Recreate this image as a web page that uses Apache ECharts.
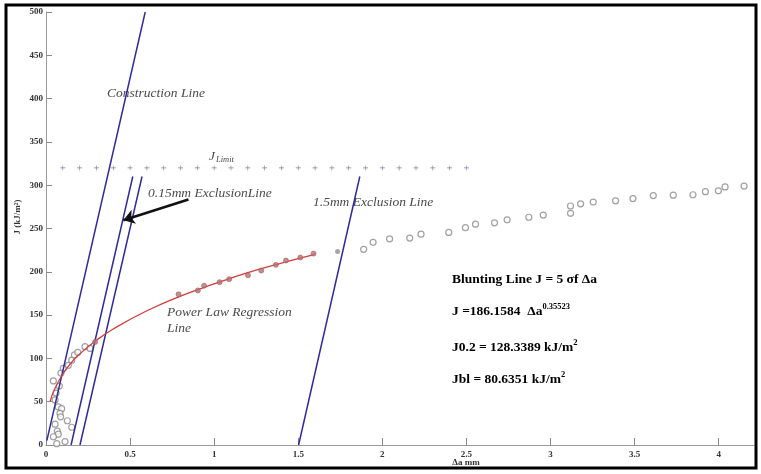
<!DOCTYPE html>
<html lang="en">
<head>
    <meta charset="UTF-8">
    <title>J-R curve</title>
    <script src="https://cdn.jsdelivr.net/npm/echarts@6/dist/echarts.min.js"></script>
    <style>
        html, body { margin: 0; padding: 0; background: #fff; }
    </style>
</head>
<body>
<div id="chart" style="width: 761px; height: 474px;"></div>
<script>
    // axis ticks
    var xTicks = [0, 0.5, 1, 1.5, 2, 2.5, 3, 3.5, 4];

    // straight lines: [x, J]
    var constructionLine = [[0.005, 5], [0.59, 500]];
    var exclusion015 = [[0.149, 0], [0.516, 310]];
    var exclusion02 = [[0.202, 0], [0.571, 310]];
    var exclusion15 = [[1.502, 0], [1.866, 310]];

    // J limit row of "+" markers
    var jLimitX = [0.1, 0.2, 0.3, 0.4, 0.5, 0.6, 0.7, 0.8, 0.9, 1.0, 1.1, 1.2, 1.3,
        1.4, 1.5, 1.6, 1.7, 1.8, 1.9, 2.0, 2.1, 2.2, 2.3, 2.4, 2.5];
    var jLimit = 320;

    // power law regression curve
    var curveX = [0.024, 0.05, 0.1, 0.15, 0.2, 0.3, 0.4, 0.6, 0.8, 1.0, 1.2, 1.4, 1.6];
    var curveJ = [50, 64, 82, 95, 105, 121, 134, 155, 172, 186, 199, 210, 220];

    // points used in the regression (filled)
    var fitX = [0.292, 0.788, 0.903, 0.940, 1.032, 1.089, 1.201, 1.280, 1.367, 1.427, 1.512, 1.591];
    var fitJ = [119, 174, 178.5, 184, 188, 191.5, 196, 201.5, 208, 213, 216.5, 221];
    var extraX = [1.734];
    var extraJ = [223.5];

    // open circles, near origin
    var nearX = [0.044, 0.079, 0.089, 0.103, 0.133, 0.153, 0.169, 0.189, 0.232, 0.262,
        0.054, 0.060, 0.073, 0.093, 0.083, 0.087, 0.054, 0.067, 0.073, 0.044, 0.064, 0.113, 0.127, 0.153];
    var nearJ = [74, 68, 83, 88.5, 92, 98, 104, 107, 113.5, 111.5,
        52, 60, 44, 42, 36.5, 32.5, 24, 16, 12.5, 9.5, 1.5, 4, 28, 20.5];

    // open circles, beyond the 1.5 mm line
    var farX = [1.889, 1.945, 2.043, 2.163, 2.230, 2.395, 2.494, 2.554, 2.667, 2.742, 2.871, 2.957,
        3.119, 3.119, 3.179, 3.254, 3.387, 3.490, 3.611, 3.730, 3.847, 3.921, 3.998, 4.038, 4.151];
    var farJ = [226, 234, 238, 239, 243.5, 245.5, 251, 255, 256.5, 260, 263, 265.5,
        267.5, 276, 278.5, 280.5, 282, 284.5, 288, 288.5, 289, 292.5, 293.5, 298, 299];

    // arrow pointing at the 0.15 mm exclusion line
    var arrowFrom = [0.847, 283.5];
    var arrowTo = [0.46, 259.6];

    function pairs(xs, ys) {
        return xs.map(function (x, i) { return [x, ys[i]]; });
    }

    var chart = echarts.init(document.getElementById('chart'));
    var blue = '#2c2c9e';
    var serif = 'Liberation Serif';
    var plus = 'path://M4.4,0 L5.6,0 L5.6,4.4 L10,4.4 L10,5.6 L5.6,5.6 L5.6,10 L4.4,10 L4.4,5.6 L0,5.6 L0,4.4 L4.4,4.4 Z';

    var italic = function (text, x, y) {
        return {
            type: 'text', x: x, y: y, silent: true,
            style: {
                text: text, fontFamily: serif, fontStyle: 'italic', fontSize: 13.5,
                fill: '#4a4a4a', verticalAlign: 'middle'
            }
        };
    };
    var boldRich = {
        a: {fontFamily: serif, fontWeight: 'bold', fontSize: 13.5, color: '#2a2a2a'},
        b: {fontFamily: serif, fontWeight: 'bold', fontSize: 8.5, color: '#2a2a2a', padding: [0, 0, 10, 0]}
    };
    var bold = function (text, x, y) {
        return {
            type: 'text', x: x, y: y, silent: true,
            style: {text: text, rich: boldRich, verticalAlign: 'middle'}
        };
    };

    chart.setOption({
        animation: false,
        grid: {left: 46, right: 7, top: 12, bottom: 29},
        xAxis: {
            type: 'value', min: 0, max: 4.21,
            splitLine: {show: false},
            axisLine: {lineStyle: {color: '#9a9a9a'}},
            axisTick: {inside: true, length: 7, customValues: xTicks, lineStyle: {color: '#8a8a8a'}},
            axisLabel: {
                customValues: xTicks, margin: 5, color: '#333',
                fontFamily: serif, fontWeight: 'bold', fontSize: 9
            }
        },
        yAxis: {
            type: 'value', min: 0, max: 500, interval: 50,
            splitLine: {show: false},
            axisLine: {show: true, lineStyle: {color: '#9a9a9a'}},
            axisTick: {show: true, inside: true, length: 6, lineStyle: {color: '#8a8a8a'}},
            axisLabel: {margin: 3, color: '#333', fontFamily: serif, fontWeight: 'bold', fontSize: 9}
        },
        graphic: [
            {
                type: 'rect', silent: true, z: 100,
                shape: {x: 6, y: 5, width: 750, height: 463},
                style: {fill: 'none', stroke: '#000', lineWidth: 3}
            },
            {
                type: 'text', x: 18, y: 217, rotation: Math.PI / 2, silent: true,
                style: {
                    text: 'J (kJ/m²)', fontFamily: serif, fontWeight: 'bold', fontSize: 9,
                    fill: '#333', align: 'center', verticalAlign: 'middle'
                }
            },
            {
                type: 'text', x: 466, y: 463, silent: true,
                style: {
                    text: 'Δa mm', fontFamily: serif, fontWeight: 'bold', fontSize: 9,
                    fill: '#333', align: 'center', verticalAlign: 'middle'
                }
            },
            italic('Construction Line', 107, 93),
            italic('0.15mm ExclusionLine', 148, 193),
            italic('1.5mm Exclusion Line', 313, 202),
            italic('Power Law Regression', 167, 312),
            italic('Line', 167, 328),
            italic('J', 209, 156),
            {
                type: 'text', x: 216, y: 160, silent: true,
                style: {
                    text: 'Limit', fontFamily: serif, fontStyle: 'italic', fontSize: 8.5,
                    fill: '#4a4a4a', verticalAlign: 'middle'
                }
            },
            bold('{a|Blunting Line J = 5 σf Δa}', 452, 280),
            bold('{a|J =186.1584  Δa}{b|0.35523}', 452, 312),
            bold('{a|J0.2 = 128.3389 kJ/m}{b|2}', 452, 348),
            bold('{a|Jbl = 80.6351 kJ/m}{b|2}', 452, 380)
        ],
        series: [
            {
                type: 'line', data: constructionLine, symbol: 'none',
                lineStyle: {color: blue, width: 1.5}
            },
            {
                type: 'line', data: exclusion015, symbol: 'none',
                lineStyle: {color: blue, width: 1.5}
            },
            {
                type: 'line', data: exclusion02, symbol: 'none',
                lineStyle: {color: blue, width: 1.5}
            },
            {
                type: 'line', data: exclusion15, symbol: 'none',
                lineStyle: {color: blue, width: 1.5}
            },
            {
                type: 'scatter', data: jLimitX.map(function (x) { return [x, jLimit]; }),
                symbol: plus, symbolSize: 5,
                itemStyle: {color: '#5a5c82'}
            },
            {
                type: 'line', data: pairs(curveX, curveJ), symbol: 'none', smooth: true,
                lineStyle: {color: '#d43c3c', width: 1.3}
            },
            {
                type: 'scatter', data: pairs(nearX, nearJ).concat(pairs(farX, farJ)),
                symbol: 'circle', symbolSize: 6,
                itemStyle: {color: '#fff', borderColor: '#8a8a8a', borderWidth: 1.2}
            },
            {
                type: 'scatter', data: pairs(fitX, fitJ), symbolSize: 5, z: 3,
                itemStyle: {color: '#a07a7a', borderColor: '#c85050', borderWidth: 0.8}
            },
            {
                type: 'scatter', data: pairs(extraX, extraJ), symbolSize: 5,
                itemStyle: {color: '#9a8a8a'}
            },
            {
                type: 'lines', coordinateSystem: 'cartesian2d', z: 5,
                symbol: ['none', 'arrow'], symbolSize: 11,
                lineStyle: {color: '#111', width: 2.5, opacity: 1},
                data: [{coords: [arrowFrom, arrowTo]}]
            }
        ]
    });
</script>
</body>
</html>
